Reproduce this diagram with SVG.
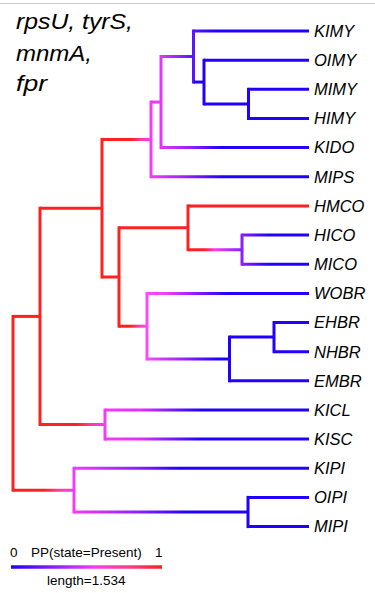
<svg xmlns="http://www.w3.org/2000/svg" width="375" height="593" viewBox="0 0 375 593">
<style>
.br{fill:none;stroke-width:3;stroke-linecap:butt}
.v{fill:none;stroke-width:3;stroke-linecap:square}
.lab{font-family:"Liberation Sans",Arial,sans-serif;font-style:italic;font-size:16.5px;fill:#000}
.ttl{font-family:"Liberation Sans",Arial,sans-serif;font-style:italic;font-size:22.5px;fill:#000}
.leg{font-family:"Liberation Sans",Arial,sans-serif;font-size:13.5px;fill:#000}
</style>
<defs>
<linearGradient id="gRO" gradientUnits="userSpaceOnUse" x1="13" y1="0" x2="74" y2="0"><stop offset="0" stop-color="#ff2020"/><stop offset="0.5" stop-color="#ff2020"/><stop offset="0.75" stop-color="#ff3c9a"/><stop offset="1" stop-color="#f53cf5"/></linearGradient>
<linearGradient id="gAN" gradientUnits="userSpaceOnUse" x1="40" y1="0" x2="105" y2="0"><stop offset="0" stop-color="#ff2020"/><stop offset="0.55" stop-color="#ff2020"/><stop offset="0.78" stop-color="#ff3c9a"/><stop offset="1" stop-color="#f53cf5"/></linearGradient>
<linearGradient id="gBC" gradientUnits="userSpaceOnUse" x1="102" y1="0" x2="151" y2="0"><stop offset="0" stop-color="#ff2020"/><stop offset="0.6" stop-color="#ff2020"/><stop offset="0.8" stop-color="#ff3c9a"/><stop offset="1" stop-color="#f53cf5"/></linearGradient>
<linearGradient id="gHK" gradientUnits="userSpaceOnUse" x1="119" y1="0" x2="147" y2="0"><stop offset="0" stop-color="#ff2020"/><stop offset="0.4" stop-color="#ff2020"/><stop offset="0.7" stop-color="#ff3c9a"/><stop offset="1" stop-color="#f84cf8"/></linearGradient>
<linearGradient id="gIJ" gradientUnits="userSpaceOnUse" x1="188" y1="0" x2="242" y2="0"><stop offset="0" stop-color="#ff2020"/><stop offset="0.3" stop-color="#ff2020"/><stop offset="0.5" stop-color="#f53cf5"/><stop offset="1" stop-color="#8a1eff"/></linearGradient>
<linearGradient id="gMIPS" gradientUnits="userSpaceOnUse" x1="151" y1="0" x2="309" y2="0"><stop offset="0" stop-color="#f53cf5"/><stop offset="0.25" stop-color="#8a1eff"/><stop offset="0.45" stop-color="#2200ff"/><stop offset="1" stop-color="#2200ff"/></linearGradient>
<linearGradient id="gKIDO" gradientUnits="userSpaceOnUse" x1="161" y1="0" x2="309" y2="0"><stop offset="0" stop-color="#e236f8"/><stop offset="0.22" stop-color="#8a1eff"/><stop offset="0.4" stop-color="#2200ff"/><stop offset="1" stop-color="#2200ff"/></linearGradient>
<linearGradient id="gDE" gradientUnits="userSpaceOnUse" x1="161" y1="0" x2="193.5" y2="0"><stop offset="0" stop-color="#e236f8"/><stop offset="1" stop-color="#5a14ff"/></linearGradient>
<linearGradient id="gKIMY" gradientUnits="userSpaceOnUse" x1="193.5" y1="0" x2="309" y2="0"><stop offset="0" stop-color="#5a14ff"/><stop offset="0.2" stop-color="#2200ff"/><stop offset="1" stop-color="#2200ff"/></linearGradient>
<linearGradient id="gJ" gradientUnits="userSpaceOnUse" x1="242" y1="0" x2="309" y2="0"><stop offset="0" stop-color="#8a1eff"/><stop offset="0.4" stop-color="#2200ff"/><stop offset="1" stop-color="#2200ff"/></linearGradient>
<linearGradient id="gWOBR" gradientUnits="userSpaceOnUse" x1="147" y1="0" x2="309" y2="0"><stop offset="0" stop-color="#f84cf8"/><stop offset="0.12" stop-color="#f53cf5"/><stop offset="0.3" stop-color="#8a1eff"/><stop offset="0.5" stop-color="#2200ff"/><stop offset="1" stop-color="#2200ff"/></linearGradient>
<linearGradient id="gKL" gradientUnits="userSpaceOnUse" x1="147" y1="0" x2="229.5" y2="0"><stop offset="0" stop-color="#f84cf8"/><stop offset="0.5" stop-color="#8a1eff"/><stop offset="0.85" stop-color="#2200ff"/><stop offset="1" stop-color="#2200ff"/></linearGradient>
<linearGradient id="gN" gradientUnits="userSpaceOnUse" x1="105" y1="0" x2="309" y2="0"><stop offset="0" stop-color="#f53cf5"/><stop offset="0.17" stop-color="#e230fa"/><stop offset="0.3" stop-color="#8a1eff"/><stop offset="0.47" stop-color="#2200ff"/><stop offset="1" stop-color="#2200ff"/></linearGradient>
<linearGradient id="gKIPI" gradientUnits="userSpaceOnUse" x1="74" y1="0" x2="309" y2="0"><stop offset="0" stop-color="#f53cf5"/><stop offset="0.28" stop-color="#8a1eff"/><stop offset="0.45" stop-color="#2200ff"/><stop offset="1" stop-color="#2200ff"/></linearGradient>
<linearGradient id="gOP" gradientUnits="userSpaceOnUse" x1="74" y1="0" x2="248" y2="0"><stop offset="0" stop-color="#f53cf5"/><stop offset="0.38" stop-color="#8a1eff"/><stop offset="0.65" stop-color="#2200ff"/><stop offset="1" stop-color="#2200ff"/></linearGradient>
<linearGradient id="gLeg" gradientUnits="userSpaceOnUse" x1="11" y1="0" x2="162" y2="0"><stop offset="0" stop-color="#2200ff"/><stop offset="0.28" stop-color="#8a1eff"/><stop offset="0.55" stop-color="#f53cf5"/><stop offset="0.78" stop-color="#ff3c8a"/><stop offset="1" stop-color="#ff2020"/></linearGradient>
</defs>
<rect width="375" height="593" fill="#ffffff"/>
<line x1="0" y1="3.5" x2="375" y2="3.5" stroke="#c8c8c8" stroke-width="1"/>
<g id="title">
<text class="ttl" x="16" y="28.5" textLength="117" lengthAdjust="spacingAndGlyphs">rpsU, tyrS,</text>
<text class="ttl" x="16" y="60.5" textLength="76" lengthAdjust="spacingAndGlyphs">mnmA,</text>
<text class="ttl" x="16" y="91" textLength="31" lengthAdjust="spacingAndGlyphs">fpr</text>
</g>
<g id="connectors">
<line class="v" stroke="#ff2020" x1="13" y1="316.4" x2="13" y2="490.15"/>
<line class="v" stroke="#ff2020" x1="40" y1="208.2" x2="40" y2="424.55"/>
<line class="v" stroke="#ff2020" x1="102" y1="139.4" x2="102" y2="277"/>
<line class="v" stroke="#f53cf5" x1="151" y1="102.05" x2="151" y2="176.8"/>
<line class="v" stroke="#e236f8" x1="161" y1="56.5" x2="161" y2="147.6"/>
<line class="v" stroke="#5a14ff" x1="193.5" y1="31" x2="193.5" y2="82.05"/>
<line class="v" stroke="#2200ff" x1="204" y1="60.2" x2="204" y2="103.9"/>
<line class="v" stroke="#2200ff" x1="248.5" y1="89.3" x2="248.5" y2="118.5"/>
<line class="v" stroke="#ff2020" x1="119" y1="227.8" x2="119" y2="326.2"/>
<line class="v" stroke="#ff2020" x1="188" y1="205.9" x2="188" y2="249.65"/>
<line class="v" stroke="#8a1eff" x1="242" y1="235.1" x2="242" y2="264.2"/>
<line class="v" stroke="#f84cf8" x1="147" y1="293.4" x2="147" y2="358.95"/>
<line class="v" stroke="#2200ff" x1="229.5" y1="337.1" x2="229.5" y2="380.8"/>
<line class="v" stroke="#2200ff" x1="274" y1="322.5" x2="274" y2="351.7"/>
<line class="v" stroke="#f53cf5" x1="105" y1="410" x2="105" y2="439.1"/>
<line class="v" stroke="#f53cf5" x1="74" y1="468.3" x2="74" y2="512"/>
<line class="v" stroke="#2200ff" x1="248" y1="497.4" x2="248" y2="526.6"/>
<line class="br" stroke="#ff2020" x1="13" y1="316.4" x2="40" y2="316.4"/>
<line class="br" stroke="url(#gRO)" x1="13" y1="490.15" x2="74" y2="490.15"/>
<line class="br" stroke="#ff2020" x1="40" y1="208.2" x2="102" y2="208.2"/>
<line class="br" stroke="url(#gAN)" x1="40" y1="424.55" x2="105" y2="424.55"/>
<line class="br" stroke="url(#gBC)" x1="102" y1="139.4" x2="151" y2="139.4"/>
<line class="br" stroke="#ff2020" x1="102" y1="277" x2="119" y2="277"/>
<line class="br" stroke="#eb3af6" x1="151" y1="102.05" x2="161" y2="102.05"/>
<line class="br" stroke="url(#gMIPS)" x1="151" y1="176.8" x2="309" y2="176.8"/>
<line class="br" stroke="url(#gDE)" x1="161" y1="56.5" x2="193.5" y2="56.5"/>
<line class="br" stroke="url(#gKIDO)" x1="161" y1="147.6" x2="309" y2="147.6"/>
<line class="br" stroke="url(#gKIMY)" x1="193.5" y1="31" x2="309" y2="31"/>
<line class="br" stroke="#2200ff" x1="193.5" y1="82.05" x2="204" y2="82.05"/>
<line class="br" stroke="#2200ff" x1="204" y1="60.2" x2="309" y2="60.2"/>
<line class="br" stroke="#2200ff" x1="204" y1="103.9" x2="248.5" y2="103.9"/>
<line class="br" stroke="#2200ff" x1="248.5" y1="89.3" x2="309" y2="89.3"/>
<line class="br" stroke="#2200ff" x1="248.5" y1="118.5" x2="309" y2="118.5"/>
<line class="br" stroke="#ff2020" x1="119" y1="227.8" x2="188" y2="227.8"/>
<line class="br" stroke="url(#gHK)" x1="119" y1="326.2" x2="147" y2="326.2"/>
<line class="br" stroke="#ff2020" x1="188" y1="205.9" x2="309" y2="205.9"/>
<line class="br" stroke="url(#gIJ)" x1="188" y1="249.65" x2="242" y2="249.65"/>
<line class="br" stroke="url(#gJ)" x1="242" y1="235.1" x2="309" y2="235.1"/>
<line class="br" stroke="url(#gJ)" x1="242" y1="264.2" x2="309" y2="264.2"/>
<line class="br" stroke="url(#gWOBR)" x1="147" y1="293.4" x2="309" y2="293.4"/>
<line class="br" stroke="url(#gKL)" x1="147" y1="358.95" x2="229.5" y2="358.95"/>
<line class="br" stroke="#2200ff" x1="229.5" y1="337.1" x2="274" y2="337.1"/>
<line class="br" stroke="#2200ff" x1="229.5" y1="380.8" x2="309" y2="380.8"/>
<line class="br" stroke="#2200ff" x1="274" y1="322.5" x2="309" y2="322.5"/>
<line class="br" stroke="#2200ff" x1="274" y1="351.7" x2="309" y2="351.7"/>
<line class="br" stroke="url(#gN)" x1="105" y1="410" x2="309" y2="410"/>
<line class="br" stroke="url(#gN)" x1="105" y1="439.1" x2="309" y2="439.1"/>
<line class="br" stroke="url(#gKIPI)" x1="74" y1="468.3" x2="309" y2="468.3"/>
<line class="br" stroke="url(#gOP)" x1="74" y1="512" x2="248" y2="512"/>
<line class="br" stroke="#2200ff" x1="248" y1="497.4" x2="309" y2="497.4"/>
<line class="br" stroke="#2200ff" x1="248" y1="526.6" x2="309" y2="526.6"/>
</g>
<g id="KIMY"><text class="lab" x="314" y="36.8">KIMY</text></g>
<g id="OIMY"><text class="lab" x="314" y="66">OIMY</text></g>
<g id="MIMY"><text class="lab" x="314" y="95.1">MIMY</text></g>
<g id="HIMY"><text class="lab" x="314" y="124.3">HIMY</text></g>
<g id="KIDO"><text class="lab" x="314" y="153.4">KIDO</text></g>
<g id="MIPS"><text class="lab" x="314" y="182.6">MIPS</text></g>
<g id="HMCO"><text class="lab" x="314" y="211.7">HMCO</text></g>
<g id="HICO"><text class="lab" x="314" y="240.9">HICO</text></g>
<g id="MICO"><text class="lab" x="314" y="270">MICO</text></g>
<g id="WOBR"><text class="lab" x="314" y="299.2">WOBR</text></g>
<g id="EHBR"><text class="lab" x="314" y="328.3">EHBR</text></g>
<g id="NHBR"><text class="lab" x="314" y="357.5">NHBR</text></g>
<g id="EMBR"><text class="lab" x="314" y="386.6">EMBR</text></g>
<g id="KICL"><text class="lab" x="314" y="415.8">KICL</text></g>
<g id="KISC"><text class="lab" x="314" y="444.9">KISC</text></g>
<g id="KIPI"><text class="lab" x="314" y="474.1">KIPI</text></g>
<g id="OIPI"><text class="lab" x="314" y="503.2">OIPI</text></g>
<g id="MIPI"><text class="lab" x="314" y="532.4">MIPI</text></g>
<g id="legend">
<text class="leg" x="10" y="557">0</text>
<text class="leg" x="31" y="557">PP(state=Present)</text>
<text class="leg" x="155" y="557">1</text>
<line x1="11" y1="567" x2="162" y2="567" stroke="url(#gLeg)" stroke-width="3.5"/>
<text class="leg" x="47" y="585">length=1.534</text>
</g>
</svg>
